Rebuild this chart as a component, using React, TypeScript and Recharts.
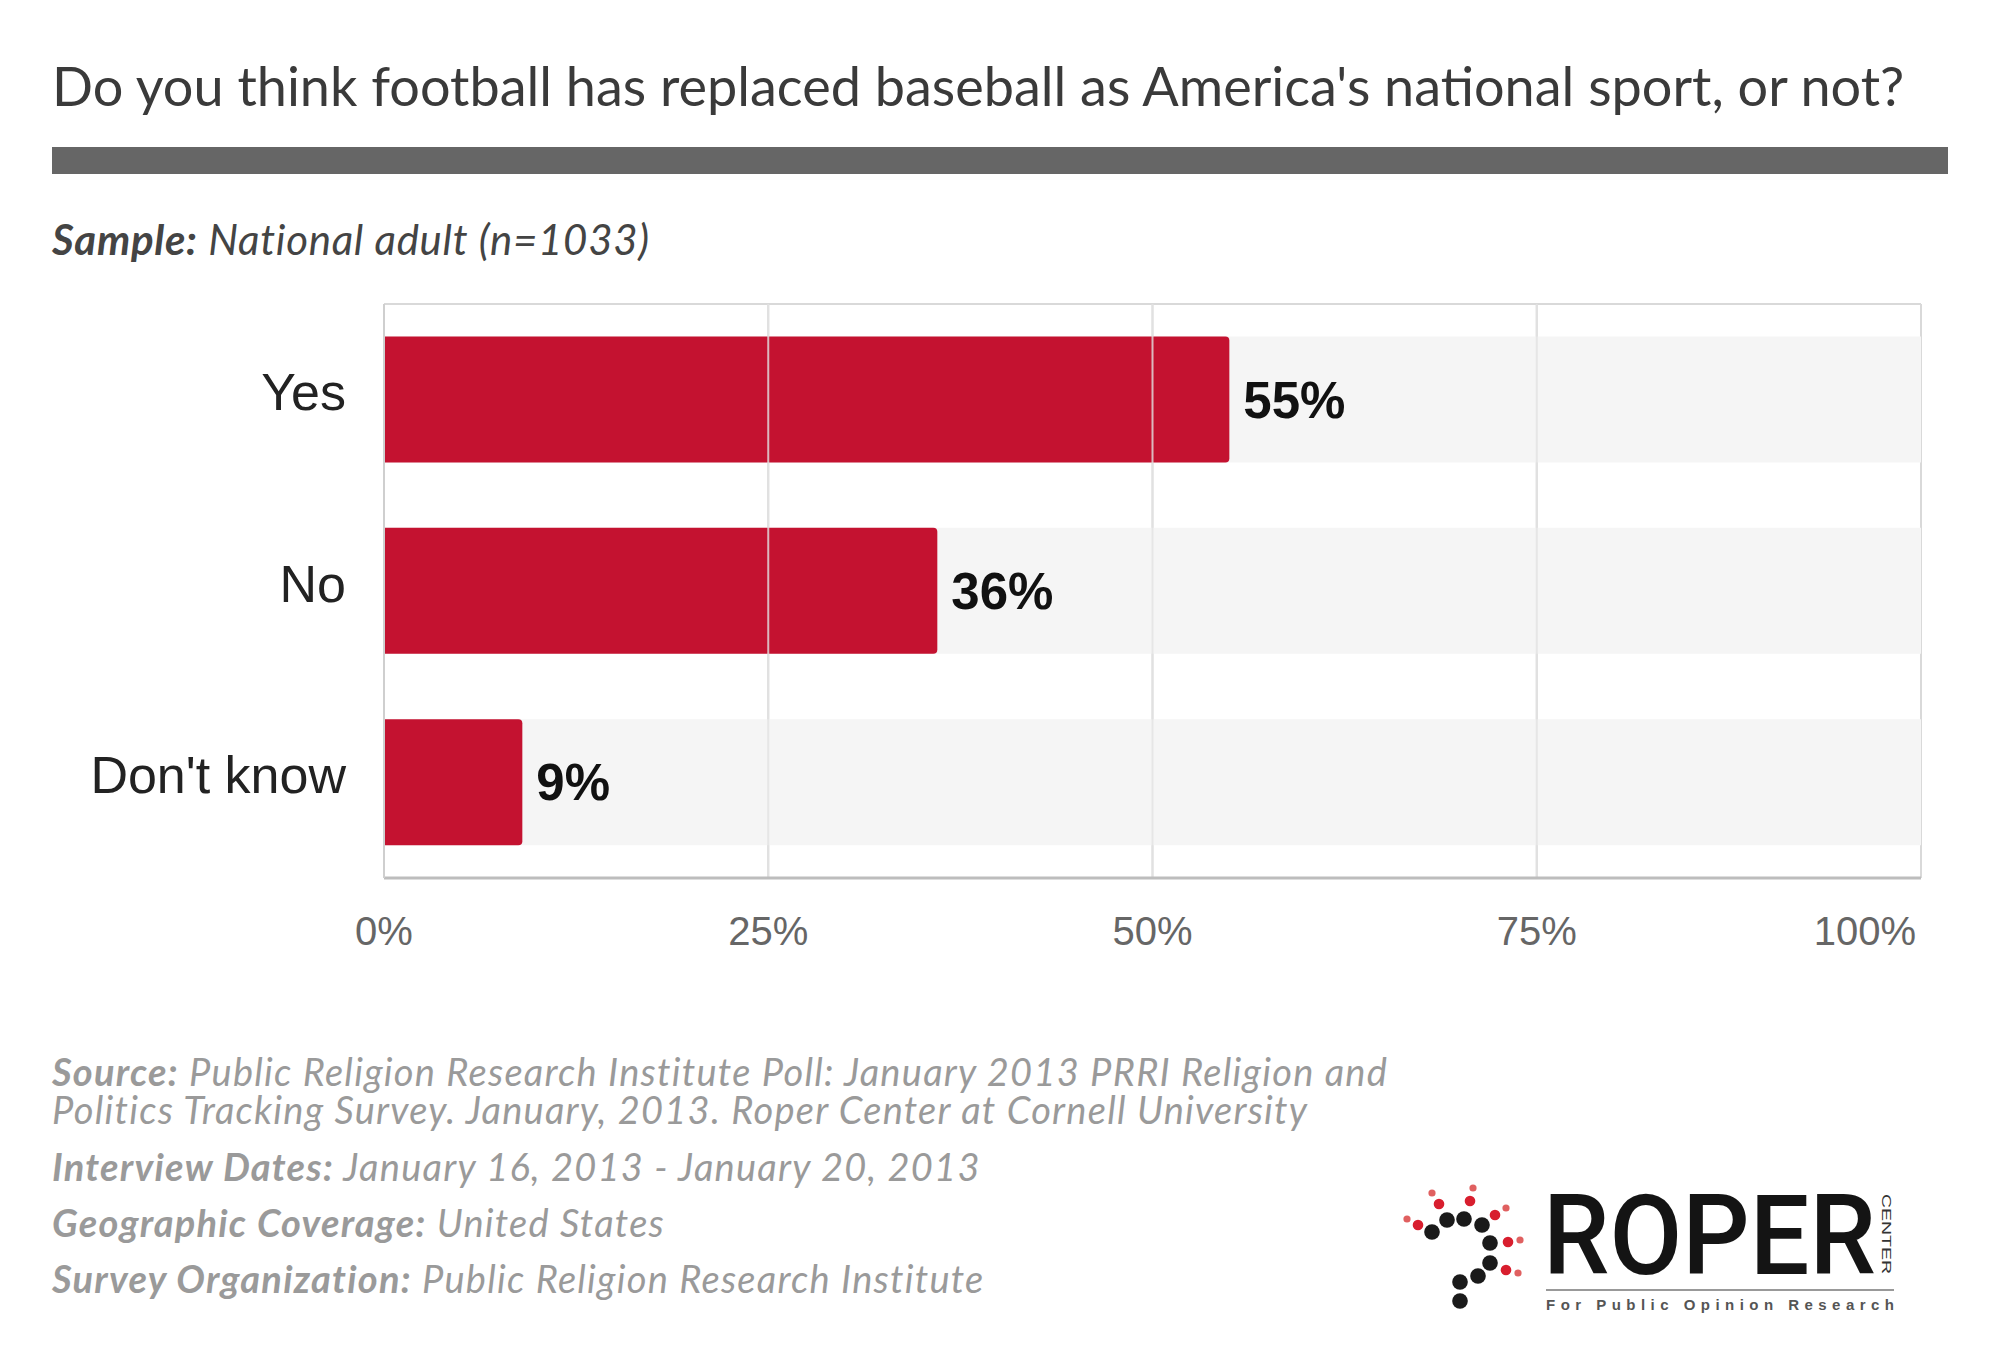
import React from 'react';
import {
  BarChart,
  Bar,
  XAxis,
  YAxis,
  CartesianGrid,
  ReferenceLine,
  LabelList,
} from 'recharts';

// respuestas y porcentajes
const categories = ['Yes', 'No', "Don't know"];
const values = [55, 36, 9];
const xTicks = [0, 25, 50, 75, 100];
const innerGrid = [25, 50, 75];

const data = categories.map((c, i) => ({ answer: c, pct: values[i] }));

const RED = '#c41230';
const CHART_FONT = '"Liberation Sans", Arial, sans-serif';
const TEXT_FONT = 'Lato, "Open Sans", sans-serif';

// logo: eslabones negros y puntos rojos
const blackDots = [
  [1432, 1232], [1447, 1220], [1464, 1219], [1482, 1225], [1490, 1243],
  [1490, 1263], [1478, 1276], [1460, 1282], [1460, 1301],
];
const redDots = [
  [1439, 1204, 1432, 1193],
  [1418, 1225, 1407, 1219],
  [1470, 1201, 1473, 1188],
  [1495, 1215, 1506, 1208],
  [1508, 1242, 1520, 1240],
  [1506, 1270, 1518, 1273],
];

function CategoryTick(props: any) {
  const { x, y, payload } = props;
  return (
    <text x={x} y={y - 8} dy="0.36em" textAnchor="end" fontSize={52} fill="#222" fontFamily={CHART_FONT}>
      {payload.value}
    </text>
  );
}

function PctTick(props: any) {
  const { x, y, payload } = props;
  const last = payload.value === 100;
  return (
    <text
      x={last ? x - 5 : x}
      y={y + 51}
      dy="0.36em"
      textAnchor={last ? 'end' : 'middle'}
      fontSize={40}
      fill="#666"
      fontFamily={CHART_FONT}
    >
      {payload.value}%
    </text>
  );
}

function Logo() {
  return (
    <svg width={2000} height={1367} style={{ position: 'absolute', left: 0, top: 0, pointerEvents: 'none' }}>
      {redDots.map((d, i) => (
        <g key={`r-${i}`}>
          <circle cx={d[2]} cy={d[3]} r={3.6} fill="#e06060" />
          <circle cx={d[0]} cy={d[1]} r={5.3} fill="#d81e2e" />
        </g>
      ))}
      {blackDots.map((d, i) => (
        <circle key={`b-${i}`} cx={d[0]} cy={d[1]} r={7.8} fill="#1a1a1a" />
      ))}
      <text
        x={1543}
        y={1274}
        fontSize={112}
        fontWeight={500}
        fontFamily="Roboto, sans-serif"
        fill="#141414"
        textLength={333}
        lengthAdjust="spacingAndGlyphs"
      >
        ROPER
      </text>
      <text
        x={1882}
        y={1194}
        fontSize={13}
        fontFamily={CHART_FONT}
        fill="#333"
        transform="rotate(90 1882 1194)"
        textLength={80}
        lengthAdjust="spacingAndGlyphs"
      >
        CENTER
      </text>
      <line x1={1546} x2={1894} y1={1290} y2={1290} stroke="#999" strokeWidth={2} />
      <text x={1546} y={1310} fontSize={15} fontWeight="bold" fontFamily={CHART_FONT} fill="#555" textLength={348} lengthAdjust="spacing">
        For Public Opinion Research
      </text>
    </svg>
  );
}

export default function App() {
  const lbl: React.CSSProperties = { fontStyle: 'italic', fontWeight: 700 };
  return (
    <div style={{ position: 'absolute', left: 0, top: 0, width: 2000, height: 1367, background: '#fff', overflow: 'hidden' }}>
      <div
        style={{
          position: 'absolute', left: 52, top: 56, fontFamily: TEXT_FONT, fontSize: 54, lineHeight: '60px',
          color: '#3a3a3a', whiteSpace: 'nowrap',
        }}
      >
        Do you think football has replaced baseball as America's national sport, or not?
      </div>
      <div style={{ position: 'absolute', left: 52, top: 147, width: 1896, height: 27, background: '#666' }} />
      <div
        style={{
          position: 'absolute', left: 52, top: 215, fontFamily: TEXT_FONT, fontSize: 42, lineHeight: '48px',
          color: '#444', fontStyle: 'italic', whiteSpace: 'nowrap', letterSpacing: 0.7,
        }}
      >
        <span style={{ fontWeight: 700 }}>Sample:</span> National adult (n=1033)
      </div>

      <div style={{ position: 'absolute', left: 0, top: 0 }}>
        <BarChart
          width={2000}
          height={1000}
          data={data}
          layout="vertical"
          barCategoryGap="17%"
          margin={{ top: 304, right: 79, bottom: 42, left: 44 }}
        >
          <CartesianGrid
            vertical
            horizontal
            horizontalCoordinatesGenerator={({ offset }: any) => [offset.top]}
            stroke="#d9d9d9"
            strokeWidth={2}
          />
          <XAxis
            type="number"
            domain={[0, 100]}
            ticks={xTicks}
            height={80}
            tickLine={false}
            tickSize={0}
            axisLine={{ stroke: '#bdbdbd', strokeWidth: 3 }}
            tick={<PctTick />}
            interval={0}
          />
          <YAxis
            type="category"
            dataKey="answer"
            width={340}
            tickLine={false}
            tickSize={0}
            tickMargin={38}
            axisLine={{ stroke: '#cfcfcf', strokeWidth: 2 }}
            tick={<CategoryTick />}
          />
          <Bar
            dataKey="pct"
            fill={RED}
            radius={[0, 4, 4, 0]}
            background={{ fill: '#f5f5f5' }}
            isAnimationActive={false}
          >
            <LabelList
              dataKey="pct"
              position="right"
              offset={14}
              formatter={(v: any) => `${v}%`}
              style={{ fontSize: 51, fontWeight: 700, fill: '#111', fontFamily: CHART_FONT }}
            />
          </Bar>
          {innerGrid.map((g) => (
            <ReferenceLine key={g} x={g} stroke="#e2e2e2" strokeOpacity={0.8} strokeWidth={2} />
          ))}
        </BarChart>
      </div>

      <div
        style={{
          position: 'absolute', left: 52, top: 1052, fontFamily: TEXT_FONT, fontSize: 38, lineHeight: '38px',
          color: '#9a9a9a', fontStyle: 'italic', whiteSpace: 'nowrap', letterSpacing: 1.25,
        }}
      >
        <div><span style={lbl}>Source:</span> Public Religion Research Institute Poll: January 2013 PRRI Religion and</div>
        <div>Politics Tracking Survey. January, 2013. Roper Center at Cornell University</div>
      </div>
      <div
        style={{
          position: 'absolute', left: 52, top: 1138, fontFamily: TEXT_FONT, fontSize: 38, lineHeight: '56px',
          color: '#9a9a9a', fontStyle: 'italic', whiteSpace: 'nowrap', letterSpacing: 1.25,
        }}
      >
        <div><span style={lbl}>Interview Dates:</span> January 16, 2013 - January 20, 2013</div>
        <div><span style={lbl}>Geographic Coverage:</span> United States</div>
        <div><span style={lbl}>Survey Organization:</span> Public Religion Research Institute</div>
      </div>

      <Logo />
    </div>
  );
}
